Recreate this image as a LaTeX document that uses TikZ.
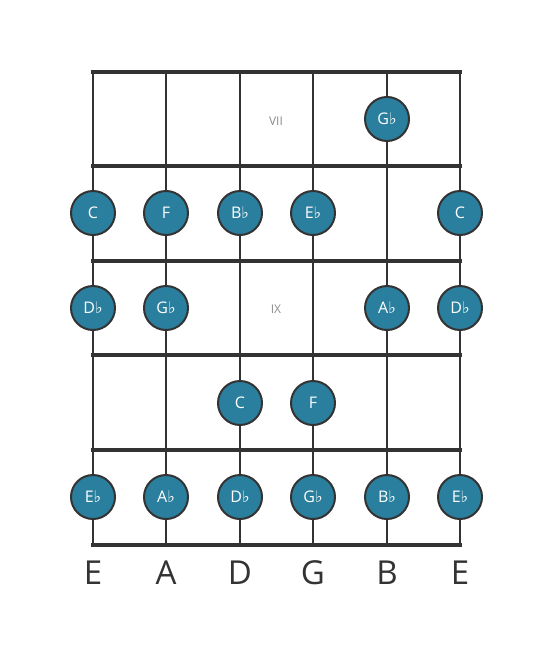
\documentclass[tikz,border=0pt]{standalone}
\usepackage{fontspec}
\setmainfont{Open Sans}
\newfontfamily\flatfont{DejaVu Sans}
\definecolor{dotfill}{HTML}{2B7F9E}
\definecolor{ink}{HTML}{333333}
\definecolor{romangray}{HTML}{8A8A8A}
\newcommand{\fl}{{\flatfont\char"266D}}
\begin{document}
\begin{tikzpicture}[x=1pt,y=-1pt,
  fretline/.style={line width=4.2pt,draw=ink,line cap=rect},
  stringline/.style={line width=2.4pt,draw=ink},
  note/.style={circle,minimum size=44pt,inner sep=0pt,fill=dotfill,draw=ink,line width=2pt,text=white,font=\fontsize{16}{16}\selectfont},
  roman/.style={text=romangray,font=\fontsize{12}{12}\selectfont},
  strname/.style={text=ink,font=\fontsize{33}{33}\selectfont}]
\useasboundingbox (0,0) rectangle (553,656);
% string coordinates
\foreach \i/\x in {1/93,2/166,3/240,4/313,5/387,6/460}{
  \coordinate (s\i t) at (\x,72);
  \coordinate (s\i b) at (\x,545);
}
\foreach \i/\y in {0/72,1/166,2/261,3/355,4/450,5/545}{
  \coordinate (f\i l) at (93,\y);
  \coordinate (f\i r) at (460,\y);
}
\foreach \i in {1,...,6}{ \draw[stringline] (s\i t) -- (s\i b); }
\foreach \i in {0,...,5}{ \draw[fretline] (f\i l) -- (f\i r); }
\node[roman] (vii) at (276,121) {VII};
\node[roman] (ix) at (276,309) {IX};
% notes
\node[note] (n1) at (387,119) {G\fl};
\node[note] (n2) at (93,213) {C};
\node[note] (n3) at (166,213) {F};
\node[note] (n4) at (240,213) {B\fl};
\node[note] (n5) at (313,213) {E\fl};
\node[note] (n6) at (460,213) {C};
\node[note] (n7) at (93,308) {D\fl};
\node[note] (n8) at (166,308) {G\fl};
\node[note] (n9) at (387,308) {A\fl};
\node[note] (n10) at (460,308) {D\fl};
\node[note] (n11) at (240,403) {C};
\node[note] (n12) at (313,403) {F};
\node[note] (n13) at (93,497) {E\fl};
\node[note] (n14) at (166,497) {A\fl};
\node[note] (n15) at (240,497) {D\fl};
\node[note] (n16) at (313,497) {G\fl};
\node[note] (n17) at (387,497) {B\fl};
\node[note] (n18) at (460,497) {E\fl};
% string names
\foreach \i/\x/\t in {1/93/E,2/166/A,3/240/D,4/313/G,5/387/B,6/460/E}{
  \node[strname] (l\i) at (\x,573) {\t};
}
\end{tikzpicture}
\end{document}
